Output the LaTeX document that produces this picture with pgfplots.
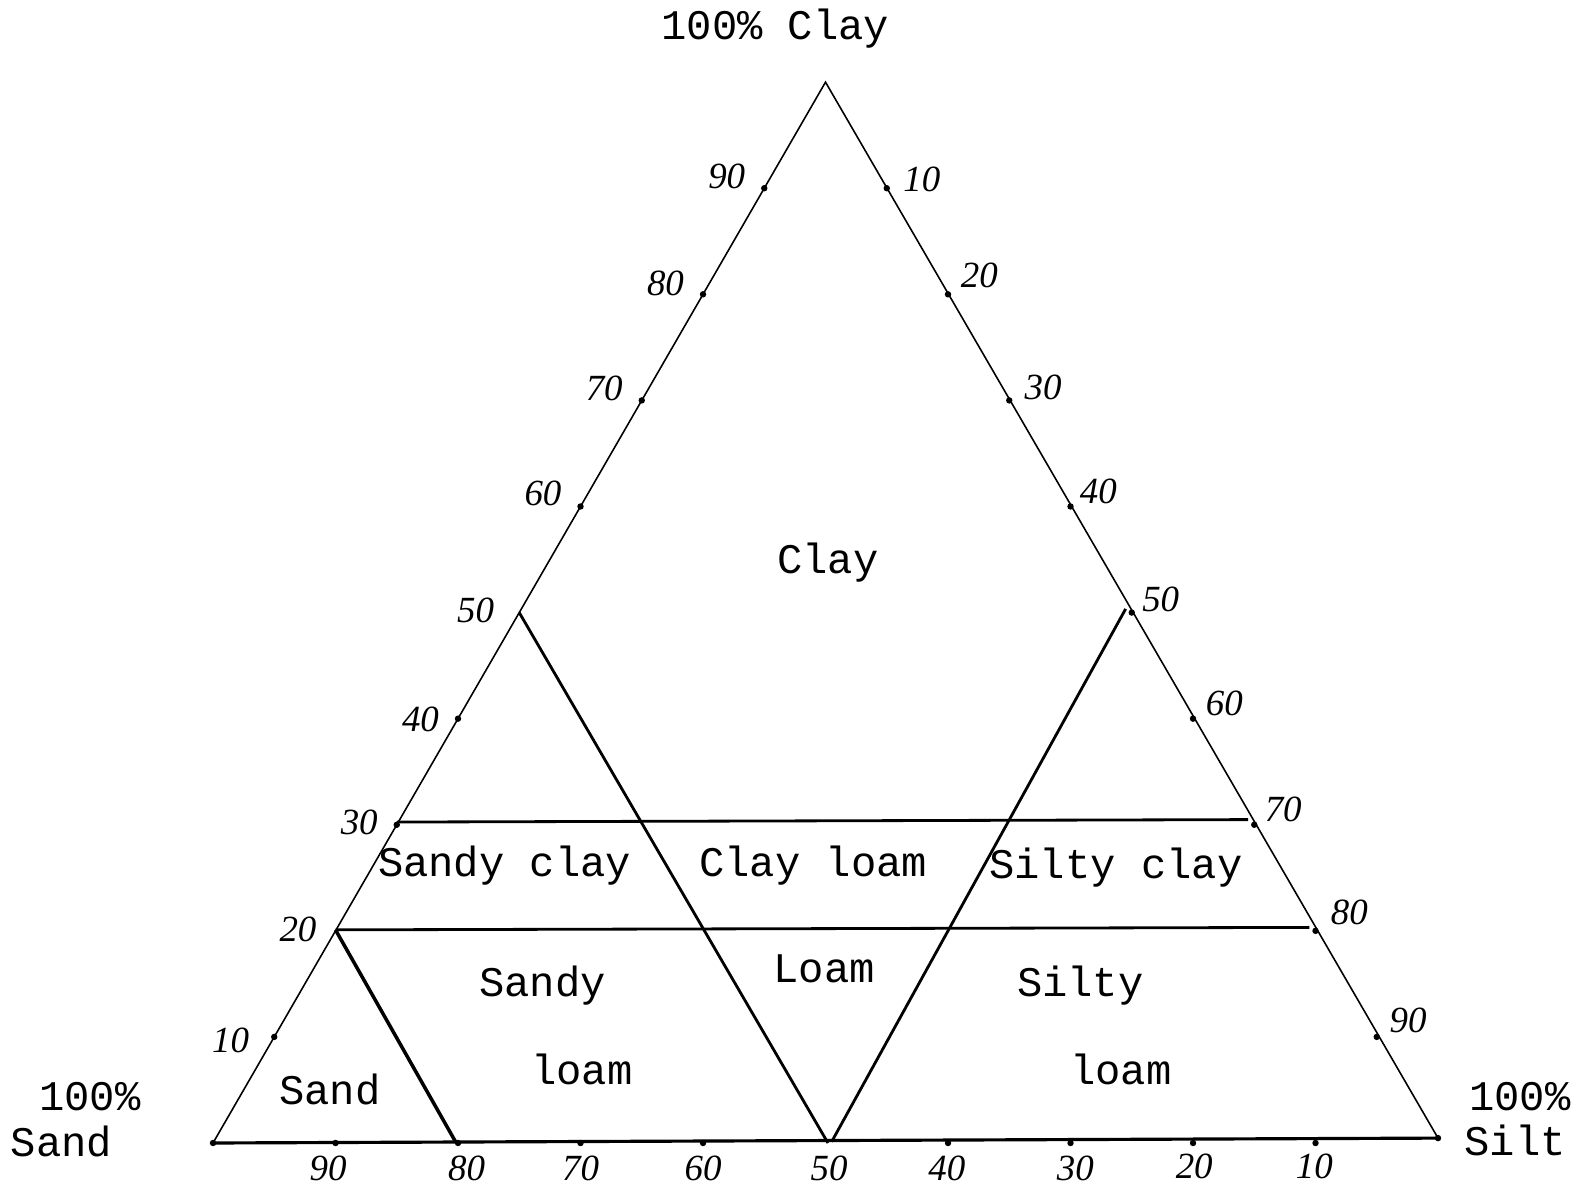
\documentclass[border=0pt]{standalone}
\usepackage{pgfplots}
\pgfplotsset{compat=1.18}
\usepackage{fontspec}
\setmainfont{Liberation Mono}
\newfontfamily\hand{Liberation Serif}
\begin{document}
\begin{tikzpicture}[
    lab/.style={font=\fontsize{12}{14}\selectfont, inner sep=0pt},
    tl/.style={font=\hand\itshape\fontsize{10.5}{12}\selectfont, inner sep=0pt},
]
\begin{axis}[
    at={(2.13cm,0.49cm)}, anchor=south west,
    x=1.225mm, y=1.225mm,
    xmin=0, xmax=100, ymin=0, ymax=86.6,
    axis lines=none, clip=false,
]
% triangle sides
\addplot[black, line width=0.45pt] coordinates {(0,0) (50,86.6) (100,0.4)};
\addplot[black, line width=0.9pt] coordinates {(0,0) (100,0.4)};
% clay 30 and clay 20 boundaries
\addplot[black, line width=0.8pt] coordinates {(15,26.2) (84.5,26.4)};
\addplot[black, line width=0.8pt] coordinates {(10,17.4) (89.5,17.6)};
% sloped boundaries
\addplot[black, line width=0.8pt] coordinates {(25,43.3) (50.2,0)};
\addplot[black, line width=0.8pt] coordinates {(74.5,43.6) (50.5,0.1)};
\addplot[black, line width=1.0pt] coordinates {(10,17.4) (19.8,0.1)};
% tick dots
\addplot[only marks, mark=*, mark size=0.7pt, black] coordinates {
  (5,8.66) (15,25.98) (20,34.64) (30,51.96) (35,60.62) (40,69.28) (45,77.94)
  (55,77.94) (60,69.28) (65,60.62) (70,51.96) (75,43.3) (80,34.64) (85,25.98) (90,17.32) (95,8.66)
  (10,0) (20,0) (30,0) (40,0) (60,0) (70,0) (80,0) (90,0) (0,0) (100,0.4)};

% left edge: clay
\node[tl, anchor=east] at (axis cs:43.5,78.9) {90};
\node[tl, anchor=east] at (axis cs:38.5,70.2) {80};
\node[tl, anchor=east] at (axis cs:33.5,61.6) {70};
\node[tl, anchor=east] at (axis cs:28.5,53.0) {60};
\node[tl, anchor=east] at (axis cs:23.0,43.5) {50};
\node[tl, anchor=east] at (axis cs:18.5,34.6) {40};
\node[tl, anchor=east] at (axis cs:13.5,26.2) {30};
\node[tl, anchor=east] at (axis cs:8.5,17.4) {20};
\node[tl, anchor=east] at (axis cs:3.0,8.4) {10};
% right edge: silt
\node[tl, anchor=west] at (axis cs:56.3,78.7) {10};
\node[tl, anchor=west] at (axis cs:61.0,70.8) {20};
\node[tl, anchor=west] at (axis cs:66.2,61.7) {30};
\node[tl, anchor=west] at (axis cs:70.7,53.2) {40};
\node[tl, anchor=west] at (axis cs:75.8,44.4) {50};
\node[tl, anchor=west] at (axis cs:81.0,35.9) {60};
\node[tl, anchor=west] at (axis cs:85.8,27.2) {70};
\node[tl, anchor=west] at (axis cs:91.2,18.8) {80};
\node[tl, anchor=west] at (axis cs:96.0,10.0) {90};
% bottom: sand
\node[tl] at (axis cs:9.4,-2.1) {90};
\node[tl] at (axis cs:20.7,-2.1) {80};
\node[tl] at (axis cs:30.0,-2.1) {70};
\node[tl] at (axis cs:40.0,-2.1) {60};
\node[tl] at (axis cs:50.3,-2.1) {50};
\node[tl] at (axis cs:59.9,-2.1) {40};
\node[tl] at (axis cs:70.4,-2.1) {30};
\node[tl] at (axis cs:80.1,-1.9) {20};
\node[tl] at (axis cs:89.9,-1.9) {10};

% class names
\node[lab] at (axis cs:45.9,91.0) {100\% Clay};
\node[lab] at (axis cs:50.2,47.4) {Clay};
\node[lab] at (axis cs:23.8,22.65) {Sandy clay};
\node[lab] at (axis cs:49.0,22.65) {Clay loam};
\node[lab] at (axis cs:73.7,22.5) {Silty clay};
\node[lab] at (axis cs:26.9,12.85) {Sandy};
\node[lab] at (axis cs:30.1,6.0) {loam};
\node[lab] at (axis cs:49.9,14.25) {Loam};
\node[lab] at (axis cs:70.8,12.85) {Silty};
\node[lab] at (axis cs:74.1,6.0) {loam};
\node[lab] at (axis cs:9.55,4.37) {Sand};
\node[lab, anchor=west] at (axis cs:-14.25,3.8) {100\%};
\node[lab, anchor=west] at (axis cs:-16.56,0.1) {Sand};
\node[lab, anchor=west] at (axis cs:102.5,3.8) {100\%};
\node[lab, anchor=west] at (axis cs:102.1,0.2) {Silt};
\end{axis}
\pgfresetboundingbox
\useasboundingbox (0,0) rectangle (15.82cm,11.92cm);
\end{tikzpicture}
\end{document}
